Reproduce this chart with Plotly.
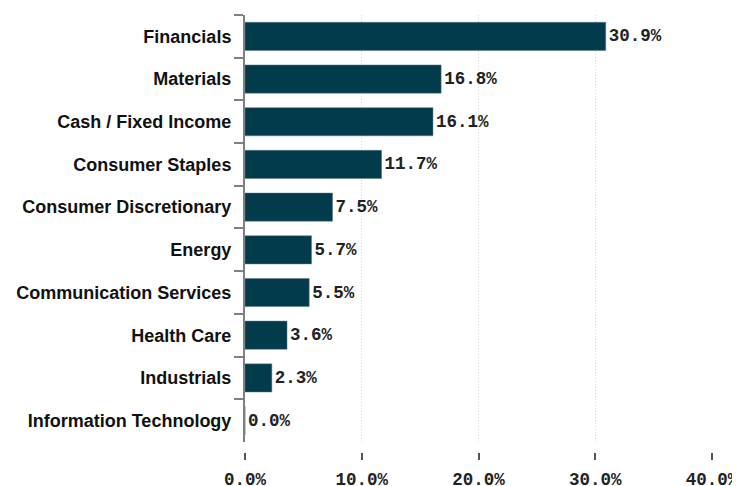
import plotly.graph_objects as go

categories = ["Financials", "Materials", "Cash / Fixed Income", "Consumer Staples",
              "Consumer Discretionary", "Energy", "Communication Services",
              "Health Care", "Industrials", "Information Technology"]
values = [30.9, 16.8, 16.1, 11.7, 7.5, 5.7, 5.5, 3.6, 2.3, 0.0]
value_labels = [f"{v:.1f}%" for v in values]
x_tickvals = [0, 10, 20, 30, 40]
x_ticktext = ["0.0%", "10.0%", "20.0%", "30.0%", "40.0%"]

mono = "Liberation Mono"

fig = go.Figure(go.Bar(
    x=values, y=categories, orientation="h",
    marker=dict(color="#023b4b", line=dict(color="#5a7d88", width=0.5)),
    width=0.66,
    text=value_labels, textposition="outside", cliponaxis=False,
    textfont=dict(family=mono, size=17.5, color="#222222", weight="bold"),
))

fig.update_layout(
    width=732, height=486,
    margin=dict(l=237, r=28, t=7, b=42, autoexpand=False),
    plot_bgcolor="white", paper_bgcolor="white",
    showlegend=False,
    xaxis=dict(range=[0, 40], tickvals=x_tickvals, ticktext=x_ticktext,
               anchor="free", position=0, automargin=False,
               showline=False, zeroline=False,
               showgrid=True, gridcolor="#d6d6d6", griddash="1px,2px", gridwidth=1,
               ticks="outside", ticklen=7, tickwidth=2, tickcolor="#555555",
               ticklabelstandoff=4,
               tickfont=dict(family=mono, size=17.5, color="#222222", weight="bold")),
    yaxis=dict(domain=[0.023, 1], autorange=False,
               range=[9.5, -0.5], automargin=False,
               showline=True, linecolor="#808080", linewidth=2,
               ticks="outside", tickson="boundaries", ticklen=9, tickwidth=2,
               tickcolor="#808080", showgrid=False, zeroline=False,
               ticklabelstandoff=8,
               tickfont=dict(family="Liberation Sans", size=18, color="#111111", weight="bold")),
)

fig.write_html("out.html")
